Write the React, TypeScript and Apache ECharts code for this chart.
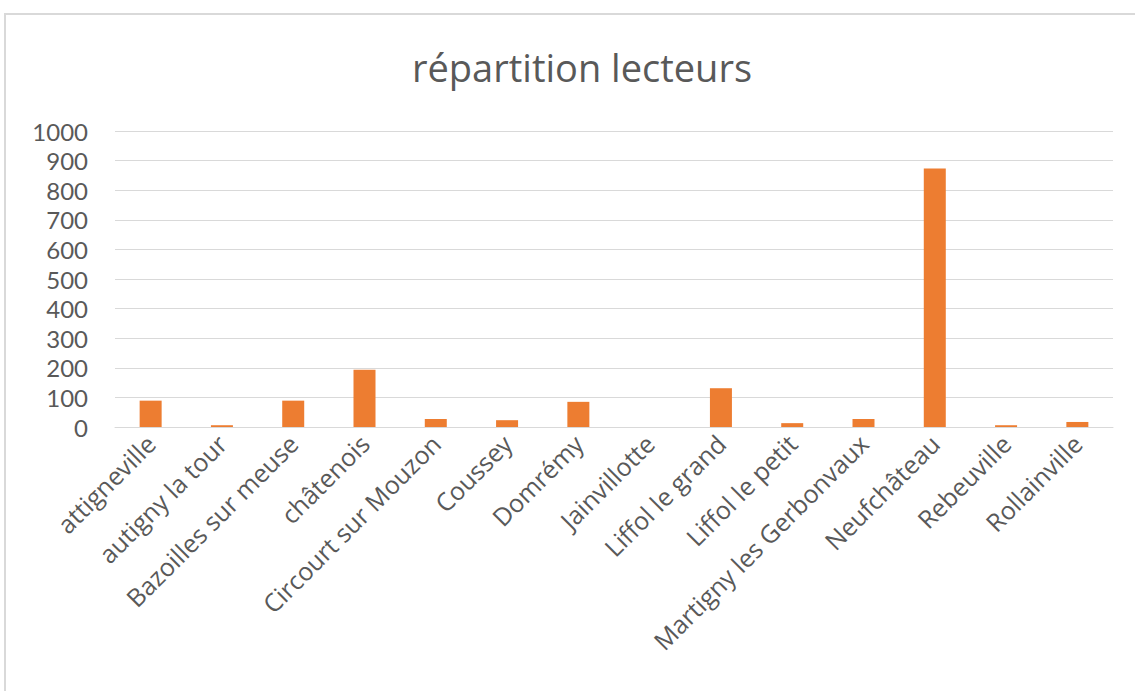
import React, { useEffect, useRef } from "react";
import * as echarts from "echarts";

const categories = [
  "attigneville",
  "autigny la tour",
  "Bazoilles sur meuse",
  "châtenois",
  "Circourt sur Mouzon",
  "Coussey",
  "Domrémy",
  "Jainvillotte",
  "Liffol le grand",
  "Liffol le petit",
  "Martigny les Gerbonvaux",
  "Neufchâteau",
  "Rebeuville",
  "Rollainville",
];
const lecteurs = [89, 6, 89, 193, 27, 23, 85, 0, 131, 13, 27, 873, 6, 17];
const title = "répartition lecteurs";

export default function App() {
  const ref = useRef<HTMLDivElement>(null);
  useEffect(() => {
    document.body.style.margin = "0";
    const chart = echarts.init(ref.current!, null, { renderer: "svg" });
    chart.setOption({
      animation: false,
      backgroundColor: "#ffffff",
      title: {
        text: title,
        left: 577,
        textAlign: "center",
        top: 37,
        textStyle: {
          fontFamily: "Open Sans",
          fontWeight: "normal",
          fontSize: 38,
          lineHeight: 50,
          color: "#595959",
        },
      },
      graphic: [
        {
          type: "rect",
          shape: { x: 5, y: 14, width: 1140, height: 700 },
          style: { fill: "none", stroke: "#d9d9d9", lineWidth: 2 },
          silent: true,
        },
      ],
      grid: { left: 115, right: 22, top: 131, bottom: 264, containLabel: false },
      xAxis: {
        type: "category",
        data: categories,
        axisTick: { show: false },
        axisLine: { lineStyle: { color: "#d9d9d9", width: 1 } },
        axisLabel: {
          rotate: 45,
          interval: 0,
          margin: 12,
          fontFamily: "Open Sans",
          fontSize: 25,
          lineHeight: 26,
          color: "#595959",
        },
      },
      yAxis: {
        type: "value",
        min: 0,
        max: 1000,
        interval: 100,
        axisLine: { show: false },
        axisTick: { show: false },
        splitLine: { lineStyle: { color: "#d9d9d9", width: 1 } },
        axisLabel: {
          margin: 27,
          formatter: (v: number) => String(v),
          fontFamily: "Lato",
          fontSize: 24,
          lineHeight: 24,
          color: "#595959",
        },
      },
      series: [
        {
          type: "bar",
          data: lecteurs,
          barWidth: 22,
          itemStyle: {
            color: "#ED7D31",
            borderWidth: 0,
          },
        },
      ],
    });
    return () => chart.dispose();
  }, []);
  return <div ref={ref} style={{ width: 1135, height: 691 }} />;
}
